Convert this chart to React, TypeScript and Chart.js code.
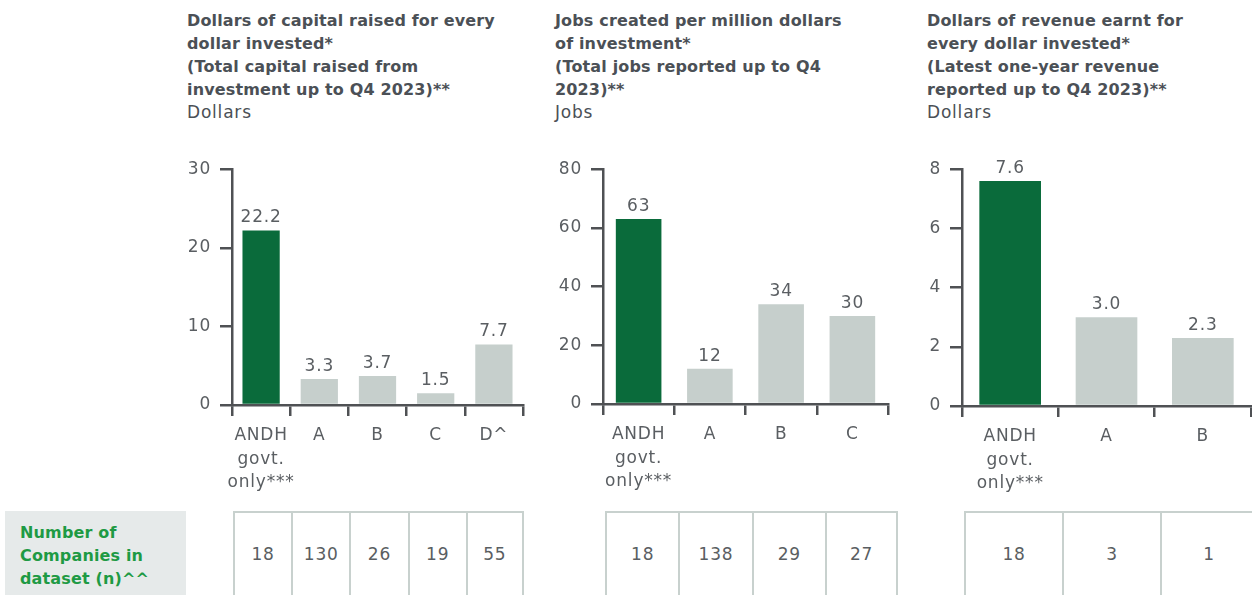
import React, { useEffect, useRef } from 'react';
import { Chart, registerables } from 'chart.js';

Chart.register(...registerables);

// ---------- DATA ----------
const capitalCategories: (string | string[])[] = [['ANDH', 'govt.', 'only***'], 'A', 'B', 'C', 'D^'];
const capitalValues = [22.2, 3.3, 3.7, 1.5, 7.7];
const capitalTicks = [0, 10, 20, 30];
const capitalCounts = [18, 130, 26, 19, 55];
const capitalTitle = ['Dollars of capital raised for every', 'dollar invested*', '(Total capital raised from', 'investment up to Q4 2023)**'];
const capitalUnit = 'Dollars';

const jobsCategories: (string | string[])[] = [['ANDH', 'govt.', 'only***'], 'A', 'B', 'C'];
const jobsValues = [63, 12, 34, 30];
const jobsTicks = [0, 20, 40, 60, 80];
const jobsCounts = [18, 138, 29, 27];
const jobsTitle = ['Jobs created per million dollars', 'of investment*', '(Total jobs reported up to Q4', '2023)**'];
const jobsUnit = 'Jobs';

const revenueCategories: (string | string[])[] = [['ANDH', 'govt.', 'only***'], 'A', 'B'];
const revenueValues = [7.6, 3.0, 2.3];
const revenueTicks = [0, 2, 4, 6, 8];
const revenueCounts = [18, 3, 1];
const revenueTitle = ['Dollars of revenue earnt for', 'every dollar invested*', '(Latest one-year revenue', 'reported up to Q4 2023)**'];
const revenueUnit = 'Dollars';

const tableLabel = ['Number of', 'Companies in', 'dataset (n)^^'];

// ---------- STYLE ----------
const FONT = '"DejaVu Sans", "Noto Sans", sans-serif';
const SPACING = '0.8px';
const GREEN = '#0a6b3b';
const GREY = '#c6cfcc';
const AXIS = '#4f5154';
const TEXT = '#5a5e62';
const TITLE = '#4b5056';
const LINE = '#c8d1ce';

const spacingPlugin = {
  id: 'letterSpacing',
  beforeUpdate(chart: any) {
    (chart.ctx as any).letterSpacing = SPACING;
  },
  beforeDraw(chart: any) {
    (chart.ctx as any).letterSpacing = SPACING;
  },
};

const valueLabelPlugin = {
  id: 'valueLabels',
  afterDatasetsDraw(chart: any, _args: any, opts: any) {
    const { ctx } = chart;
    const meta = chart.getDatasetMeta(0);
    const data = chart.data.datasets[0].data as number[];
    ctx.save();
    ctx.font = `17px ${FONT}`;
    ctx.fillStyle = TEXT;
    ctx.textAlign = 'center';
    ctx.textBaseline = 'bottom';
    meta.data.forEach((bar: any, i: number) => {
      ctx.fillText(Number(data[i]).toFixed(opts.decimals ?? 0), bar.x, bar.y - 4);
    });
    ctx.restore();
  },
};

type BarProps = {
  categories: (string | string[])[];
  values: number[];
  ticks: number[];
  decimals: number;
  left: number;
  top: number;
  width: number;
  height: number;
  padTop: number;
  padRight: number;
  yWidth: number;
  xHeight: number;
};

function BarChart(p: BarProps) {
  const ref = useRef<HTMLCanvasElement>(null);
  useEffect(() => {
    if (!ref.current) return;
    const chart = new Chart(ref.current, {
      type: 'bar',
      data: {
        labels: p.categories as any,
        datasets: [
          {
            data: p.values,
            backgroundColor: p.values.map((_, i) => (i === 0 ? GREEN : GREY)),
            borderWidth: 0,
            barPercentage: 0.8,
            categoryPercentage: 0.8,
          },
        ],
      },
      options: {
        animation: false,
        responsive: false,
        maintainAspectRatio: false,
        layout: { padding: { top: p.padTop, right: p.padRight, left: 0, bottom: 0 } },
        plugins: {
          legend: { display: false },
          tooltip: { enabled: false },
          title: { display: false },
          valueLabels: { decimals: p.decimals },
        } as any,
        scales: {
          x: {
            grid: {
              display: true,
              drawOnChartArea: false,
              drawTicks: true,
              tickLength: 11,
              color: AXIS,
              lineWidth: 2.5,
              offset: true,
            },
            border: { display: true, color: AXIS, width: 2.5 },
            ticks: {
              color: TEXT,
              font: { family: FONT, size: 17, lineHeight: 1.38 },
              padding: 8,
              maxRotation: 0,
              minRotation: 0,
              autoSkip: false,
            },
            afterFit: (s: any) => {
              s.height = p.xHeight;
            },
          },
          y: {
            min: 0,
            max: p.ticks[p.ticks.length - 1],
            afterBuildTicks: (s: any) => {
              s.ticks = p.ticks.map((v) => ({ value: v }));
            },
            grid: {
              display: true,
              drawOnChartArea: false,
              drawTicks: true,
              tickLength: 12,
              color: AXIS,
              lineWidth: 2.5,
            },
            border: { display: true, color: AXIS, width: 2.5 },
            ticks: {
              color: TEXT,
              font: { family: FONT, size: 17 },
              padding: 9,
            },
            afterFit: (s: any) => {
              s.width = p.yWidth;
            },
          },
        },
      },
      plugins: [spacingPlugin, valueLabelPlugin],
    });
    return () => chart.destroy();
  }, []);
  return (
    <canvas
      ref={ref}
      width={p.width}
      height={p.height}
      style={{ position: 'absolute', left: p.left, top: p.top, width: p.width, height: p.height }}
    />
  );
}

function Title({ lines, unit, left }: { lines: string[]; unit: string; left: number }) {
  return (
    <div
      style={{
        position: 'absolute',
        left,
        top: 9,
        fontFamily: FONT,
        lineHeight: '23px',
        color: TITLE,
        whiteSpace: 'nowrap',
      }}
    >
      {lines.map((l, i) => (
        <div key={i} style={{ fontWeight: 700, fontSize: 16, letterSpacing: '0.15px' }}>
          {l}
        </div>
      ))}
      <div style={{ fontWeight: 400, fontSize: 17, letterSpacing: SPACING }}>{unit}</div>
    </div>
  );
}

function CountTable({ counts, left, cellWidth }: { counts: number[]; left: number; cellWidth: number }) {
  return (
    <div
      style={{
        position: 'absolute',
        left,
        top: 511,
        height: 90,
        display: 'flex',
        borderTop: `2px solid ${LINE}`,
      }}
    >
      {counts.map((c, i) => (
        <div
          key={i}
          style={{
            width: cellWidth,
            boxSizing: 'border-box',
            height: 86,
            borderLeft: `2px solid ${LINE}`,
            borderRight: i === counts.length - 1 ? `2px solid ${LINE}` : undefined,
            display: 'flex',
            alignItems: 'flex-start',
            justifyContent: 'center',
            paddingTop: 31,
            fontFamily: FONT,
            fontSize: 17,
            letterSpacing: SPACING,
            color: TEXT,
          }}
        >
          {c}
        </div>
      ))}
    </div>
  );
}

export default function App() {
  return (
    <div
      style={{
        position: 'absolute',
        left: 0,
        top: 0,
        width: 1252,
        height: 595,
        overflow: 'hidden',
        background: '#ffffff',
      }}
    >
      <Title lines={capitalTitle} unit={capitalUnit} left={187} />
      <Title lines={jobsTitle} unit={jobsUnit} left={555} />
      <Title lines={revenueTitle} unit={revenueUnit} left={927} />

      <BarChart
        categories={capitalCategories}
        values={capitalValues}
        ticks={capitalTicks}
        decimals={1}
        left={160}
        top={150}
        width={366}
        height={345}
        padTop={15}
        padRight={3}
        yWidth={72}
        xHeight={90}
      />
      <BarChart
        categories={jobsCategories}
        values={jobsValues}
        ticks={jobsTicks}
        decimals={0}
        left={530}
        top={150}
        width={361}
        height={345}
        padTop={15}
        padRight={3}
        yWidth={73}
        xHeight={91}
      />
      <BarChart
        categories={revenueCategories}
        values={revenueValues}
        ticks={revenueTicks}
        decimals={1}
        left={890}
        top={150}
        width={362}
        height={345}
        padTop={14}
        padRight={1}
        yWidth={72}
        xHeight={89}
      />

      <div
        style={{
          position: 'absolute',
          left: 5,
          top: 511,
          width: 181,
          height: 90,
          background: '#e6eaea',
          boxSizing: 'border-box',
          paddingLeft: 15,
          paddingTop: 10,
          fontFamily: FONT,
          fontSize: 16,
          letterSpacing: '0.15px',
          lineHeight: '23px',
          fontWeight: 700,
          color: '#1e9a44',
        }}
      >
        {tableLabel.map((l, i) => (
          <div key={i}>{l}</div>
        ))}
      </div>
      <CountTable counts={capitalCounts} left={233} cellWidth={58.2} />
      <CountTable counts={jobsCounts} left={605} cellWidth={73.3} />
      <CountTable counts={revenueCounts} left={964} cellWidth={98} />
    </div>
  );
}
